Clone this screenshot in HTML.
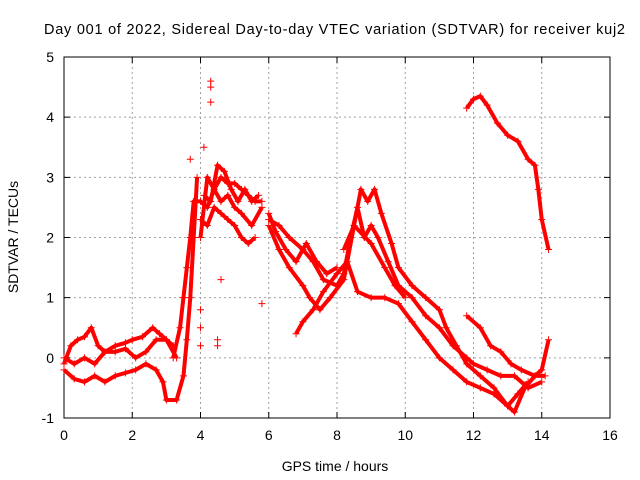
<!DOCTYPE html>
<html><head><meta charset="utf-8"><style>
body{margin:0;background:#fff;}
svg{display:block;font-family:"Liberation Sans",sans-serif;}
</style></head><body>
<svg id="chart" width="640" height="480" viewBox="0 0 640 480">
<text x="44" y="34" font-size="14.5" textLength="581" lengthAdjust="spacing">Day 001 of 2022, Sidereal Day-to-day VTEC variation (SDTVAR) for receiver kuj2</text>
<text x="335" y="471" font-size="14" text-anchor="middle">GPS time / hours</text>
<text x="18" y="237" font-size="14" text-anchor="middle" transform="rotate(-90 18 237)">SDTVAR / TECUs</text>
<g id="grid"></g><g id="axes"></g><g id="marks"></g>
</svg>
<script>
const xTicks=[0,2,4,6,8,10,12,14,16];
const yTicks=[-1,0,1,2,3,4,5];
const traceA_t=[0,0.2,0.4,0.6,0.8,1.0,1.2,1.5,1.8,2.0,2.3,2.6,2.8,3.0,3.2];
const traceA_v=[-0.1,0.2,0.3,0.35,0.5,0.2,0.1,0.2,0.25,0.3,0.35,0.5,0.4,0.3,0.2];
const traceB_t=[0,0.3,0.6,0.9,1.2,1.5,1.8,2.1,2.4,2.7,3.0,3.3];
const traceB_v=[0,-0.1,0,-0.1,0.1,0.1,0.15,0,0.1,0.3,0.3,0];
const traceC_t=[0,0.3,0.6,0.9,1.2,1.5,1.8,2.1,2.4,2.7,2.9,3.0,3.3,3.5,3.6,3.7,3.8,3.9];
const traceC_v=[-0.2,-0.35,-0.4,-0.3,-0.4,-0.3,-0.25,-0.2,-0.1,-0.2,-0.4,-0.7,-0.7,-0.3,0.3,1.0,2.0,3.0];
const traceD_t=[3.2,3.4,3.5,3.6,3.7,3.8,4.0,4.2,4.4,4.6,4.8,5.0,5.2,5.5,5.8];
const traceD_v=[0,0.5,1,1.5,2,2.6,2.6,2.5,2.8,2.6,2.7,2.5,2.4,2.2,2.5];
const traceE_t=[4.0,4.2,4.4,4.6,4.8,5.0,5.2,5.4,5.6,5.8];
const traceE_v=[2.0,3.0,2.8,3.0,2.9,2.9,2.8,2.7,2.6,2.6];
const traceL_t=[4.0,4.2,4.4,4.6,4.8,5.0,5.2,5.4,5.6];
const traceL_v=[2.3,2.2,2.5,2.4,2.3,2.2,2.0,1.9,2.0];
const traceM_t=[4.1,4.3,4.5,4.7,4.9,5.1,5.3,5.5,5.7];
const traceM_v=[2.7,2.6,3.2,3.1,2.8,2.6,2.8,2.6,2.7];
const traceF_t=[6.0,6.3,6.6,7.0,7.3,7.6,8.0,8.2,8.4,8.6,8.8,9.0,9.2,9.5,9.8,10.2,10.6,11.0,11.4,11.8,12.0,12.4,12.8,13.2,13.6,14.0];
const traceF_v=[2.3,2.2,2.0,1.8,1.6,1.3,1.2,1.4,2.0,2.5,2.0,2.2,2.0,1.6,1.2,1.0,0.7,0.5,0.2,0,-0.1,-0.2,-0.3,-0.3,-0.5,-0.4];
const traceG_t=[6.0,6.3,6.6,7.0,7.2,7.5,7.8,8.2,8.5,8.7,8.9,9.1,9.3,9.6,9.8,10.2,10.6,11.0,11.2,11.5,11.8,12.2,12.6,13.0,13.2,13.5,13.8,14.0,14.2];
const traceG_v=[2.2,1.8,1.5,1.2,1.0,0.8,1.0,1.3,2.2,2.8,2.6,2.8,2.4,1.9,1.5,1.2,1.0,0.8,0.5,0.2,-0.1,-0.3,-0.5,-0.8,-0.9,-0.5,-0.3,-0.2,0.3];
const traceN_t=[6.0,6.2,6.5,6.8,7.1,7.4,7.7,8.0];
const traceN_v=[2.4,2.1,1.8,1.6,1.9,1.6,1.4,1.5];
const traceH_t=[6.8,7.0,7.3,7.6,8.0,8.3,8.6,9.0,9.4,9.8,10.2,10.6,11.0,11.4,11.8,12.2,12.6,13.0,13.3,13.6];
const traceH_v=[0.4,0.6,0.8,1.1,1.4,1.6,1.1,1.0,1.0,0.9,0.6,0.3,0,-0.2,-0.4,-0.5,-0.6,-0.8,-0.6,-0.4];
const traceI_t=[11.8,12.2,12.5,12.8,13.1,13.4,13.8,14.1];
const traceI_v=[0.7,0.5,0.2,0.1,-0.1,-0.2,-0.3,-0.3];
const traceJ_t=[11.8,12.0,12.2,12.4,12.7,13.0,13.3,13.6,13.8,13.9,14.0,14.2];
const traceJ_v=[4.15,4.3,4.35,4.2,3.9,3.7,3.6,3.3,3.2,2.8,2.3,1.8];
const traceK_t=[8.2,8.5,9.0,9.4,9.7,10.0];
const traceK_v=[1.8,2.2,1.9,1.5,1.2,1.0];
const scatter_t=[4.0,4.0,4.0,4.3,4.3,4.3,4.5,4.5,4.6,5.8,4.1,3.7];
const scatter_v=[0.2,0.5,0.8,4.6,4.5,4.25,0.2,0.3,1.3,0.9,3.5,3.3];

const L=64,R=610,T=57,B=418,xMin=0,xMax=16,yMin=-1,yMax=5;
const X=t=>L+(t-xMin)/(xMax-xMin)*(R-L);
const Y=v=>B-(v-yMin)/(yMax-yMin)*(B-T);
const NS='http://www.w3.org/2000/svg';
function mk(tag,parent,attrs){const e=document.createElementNS(NS,tag);for(const k in attrs)e.setAttribute(k,attrs[k]);parent.appendChild(e);return e;}
const grid=document.getElementById('grid'),axes=document.getElementById('axes'),marks=document.getElementById('marks');
xTicks.forEach(t=>{
 if(t>xMin&&t<xMax){const g=mk('line',grid,{x1:X(t),x2:X(t),y1:T,y2:B,stroke:'#a0a0a0','stroke-dasharray':'2,3','stroke-width':1});
 }
 const tk=mk('path',axes,{d:`M${X(t)},${B}v-6M${X(t)},${T}v6`,stroke:'#000'});
 
 const lb=mk('text',axes,{x:X(t),y:B+22,'font-size':14,'text-anchor':'middle'});lb.textContent=t;
 
});
yTicks.forEach(v=>{
 if(v>yMin&&v<yMax){const g=mk('line',grid,{x1:L,x2:R,y1:Y(v),y2:Y(v),stroke:'#a0a0a0','stroke-dasharray':'2,3','stroke-width':1});
 }
 const tk=mk('path',axes,{d:`M${L},${Y(v)}h6M${R},${Y(v)}h-6`,stroke:'#000'});
 
 const lb=mk('text',axes,{x:L-10,y:Y(v)+5,'font-size':14,'text-anchor':'end'});lb.textContent=v;
 
});
const frame=mk('rect',axes,{x:L,y:T,width:R-L,height:B-T,fill:'none',stroke:'#000'});

function plus(t,v){const p=mk('path',marks,{d:`M${X(t)-3.5},${Y(v)}h7M${X(t)},${Y(v)-3.5}v7`,stroke:'#f00','stroke-width':1});
 }
const traces=[[traceA_t,traceA_v],[traceB_t,traceB_v],[traceC_t,traceC_v],[traceD_t,traceD_v],[traceE_t,traceE_v],[traceL_t,traceL_v],[traceM_t,traceM_v],[traceF_t,traceF_v],[traceG_t,traceG_v],[traceN_t,traceN_v],[traceH_t,traceH_v],[traceI_t,traceI_v],[traceJ_t,traceJ_v],[traceK_t,traceK_v]];
traces.forEach(([ts,vs])=>{
 const pl=mk('polyline',marks,{points:ts.map((t,i)=>X(t)+','+Y(vs[i])).join(' '),fill:'none',stroke:'#f00','stroke-width':4,'stroke-linejoin':'round'});
 
 ts.forEach((t,i)=>plus(t,vs[i]));
});
scatter_t.forEach((t,i)=>plus(t,scatter_v[i]));
</script>
</body></html>
